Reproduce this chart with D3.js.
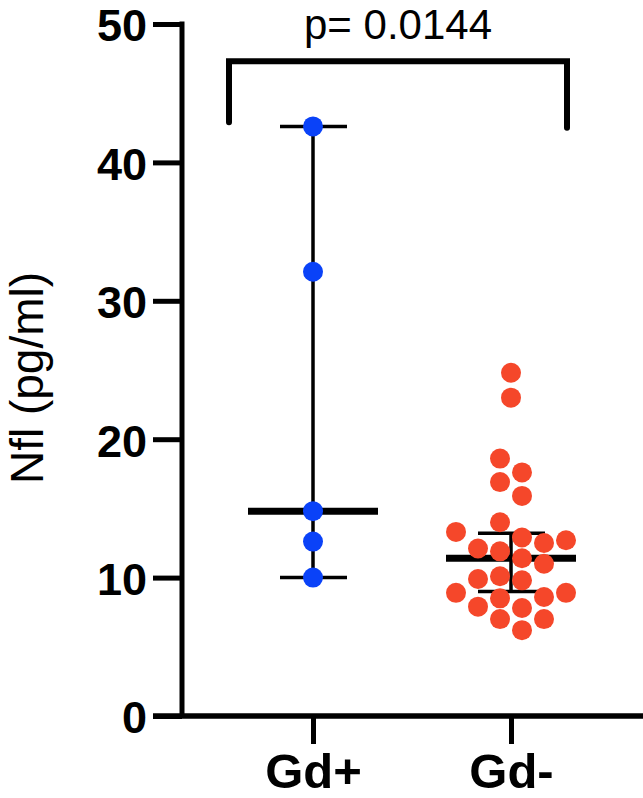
<!DOCTYPE html>
<html>
<head>
<meta charset="utf-8">
<script src="https://cdn.jsdelivr.net/npm/d3@7"></script>
<style>
  html, body { margin: 0; padding: 0; background: #ffffff; }
  svg { display: block; }
  text { font-family: Arial, "Liberation Sans", Helvetica, sans-serif; fill: #000; }
</style>
</head>
<body>
<svg id="chart" width="643" height="798"></svg>
<script>
// ---------- data ----------
const categories = ["Gd+", "Gd-"];
const gdPlusValues = [42.6, 32.1, 14.8, 12.6, 10.0];
const gdMinusValues = [24.8, 23.0, 18.6, 17.6, 16.9, 15.9, 14.0, 13.3, 12.9, 12.7, 12.5, 12.1, 11.9,
                       11.4, 11.0, 10.1, 9.9, 9.8, 8.9, 8.9, 8.6, 8.5, 7.9, 7.8, 7.0, 7.0, 6.2];
const medians = [14.8, 11.4];
const lowerBars = [10.0, 9.0];
const upperBars = [42.6, 13.2];
const yTicks = [0, 10, 20, 30, 40, 50];
const yTitle = "Nfl (pg/ml)";
const pLabel = "p= 0.0144";
const bracketLevels = [42.9, 47.3, 42.5]; // left end, top, right end

// ---------- layout ----------
const svg = d3.select("#chart");
const colors = ["#0a42f8", "#f5472a"];
const R = 10;

const y = d3.scaleLinear().domain([0, 50]).range([716, 24]);
const x = d3.scalePoint().domain(categories).range([313, 511]);

const groups = [gdPlusValues, gdMinusValues];

// simple beeswarm: isolated points stay centred, others go to a column grid
function swarm(values) {
  const pts = values.map(v => ({ v, py: y(v) }));
  const sorted = pts.slice().sort((a, b) => a.v - b.v);
  const step = 2 * R + 2;
  const cols = [step / 2, -step / 2, 1.5 * step, -1.5 * step, 2.5 * step, -2.5 * step, 3.5 * step, -3.5 * step];
  const lastInCol = new Map();
  sorted.forEach(p => {
    const isolated = pts.every(q => q === p || Math.abs(q.py - p.py) >= 2 * R);
    if (isolated) { p.dx = 0; return; }
    for (const c of cols) {
      const last = lastInCol.get(c);
      if (last === undefined || Math.abs(last - p.py) >= 2 * R) {
        p.dx = c; lastInCol.set(c, p.py); return;
      }
    }
    p.dx = 0;
  });
  return pts;
}

// ---------- axes ----------
const yAxis = d3.axisLeft(y).tickValues(yTicks).tickSize(29).tickPadding(6).tickFormat(d3.format("d"));
const gy = svg.append("g").attr("transform", "translate(182,0)").call(yAxis);
gy.select(".domain").remove();
gy.selectAll(".tick line").attr("stroke", "#000").attr("stroke-width", 5);
gy.selectAll(".tick text").attr("font-size", 45).attr("font-weight", "bold")
  .attr("font-family", "Arial, 'Liberation Sans', sans-serif").attr("fill", "#000")
  .attr("dy", "0.375em");
svg.append("line").attr("x1", 182).attr("x2", 182).attr("y1", y(50) - 2.5).attr("y2", y(0))
  .attr("stroke", "#000").attr("stroke-width", 5);

const xAxis = d3.axisBottom(x).tickSize(28).tickPadding(9);
const gx = svg.append("g").attr("transform", `translate(0,${y(0)})`).call(xAxis);
gx.select(".domain").remove();
gx.selectAll(".tick line").attr("stroke", "#000").attr("stroke-width", 5);
gx.selectAll(".tick text").attr("font-size", 49).attr("font-weight", "bold")
  .attr("font-family", "Arial, 'Liberation Sans', sans-serif").attr("fill", "#000");
svg.append("line").attr("x1", 153).attr("x2", 643).attr("y1", y(0)).attr("y2", y(0))
  .attr("stroke", "#000").attr("stroke-width", 5.5);

// y title
svg.append("text")
  .attr("transform", `translate(43,378) rotate(-90)`)
  .attr("text-anchor", "middle")
  .attr("font-size", 46)
  .text(yTitle);

// ---------- bracket + p ----------
const bx0 = 229, bx1 = 567;
svg.append("path")
  .attr("d", d3.line()([[bx0, y(bracketLevels[0])], [bx0, y(bracketLevels[1])], [bx1, y(bracketLevels[1])], [bx1, y(bracketLevels[2])]]))
  .attr("fill", "none").attr("stroke", "#000").attr("stroke-width", 6)
  .attr("stroke-linecap", "round");
svg.append("text")
  .attr("x", (bx0 + bx1) / 2).attr("y", 39)
  .attr("text-anchor", "middle").attr("font-size", 42)
  .text(pLabel);

// ---------- error bars ----------
categories.forEach((c, i) => {
  const cx = x(c);
  const g = svg.append("g");
  g.append("line").attr("x1", cx).attr("x2", cx).attr("y1", y(upperBars[i])).attr("y2", y(lowerBars[i]))
    .attr("stroke", "#000").attr("stroke-width", 3.5);
  [upperBars[i], lowerBars[i]].forEach(v => {
    g.append("line").attr("x1", cx - 33).attr("x2", cx + 34).attr("y1", y(v)).attr("y2", y(v))
      .attr("stroke", "#000").attr("stroke-width", 3.5);
  });
  g.append("line").attr("x1", cx - 65).attr("x2", cx + 65).attr("y1", y(medians[i])).attr("y2", y(medians[i]))
    .attr("stroke", "#000").attr("stroke-width", 7);
});

// ---------- points ----------
categories.forEach((c, i) => {
  const pts = swarm(groups[i]);
  svg.append("g").selectAll("circle").data(pts).join("circle")
    .attr("cx", d => x(c) + d.dx)
    .attr("cy", d => d.py)
    .attr("r", R)
    .attr("fill", colors[i]);
});
</script>
</body>
</html>
